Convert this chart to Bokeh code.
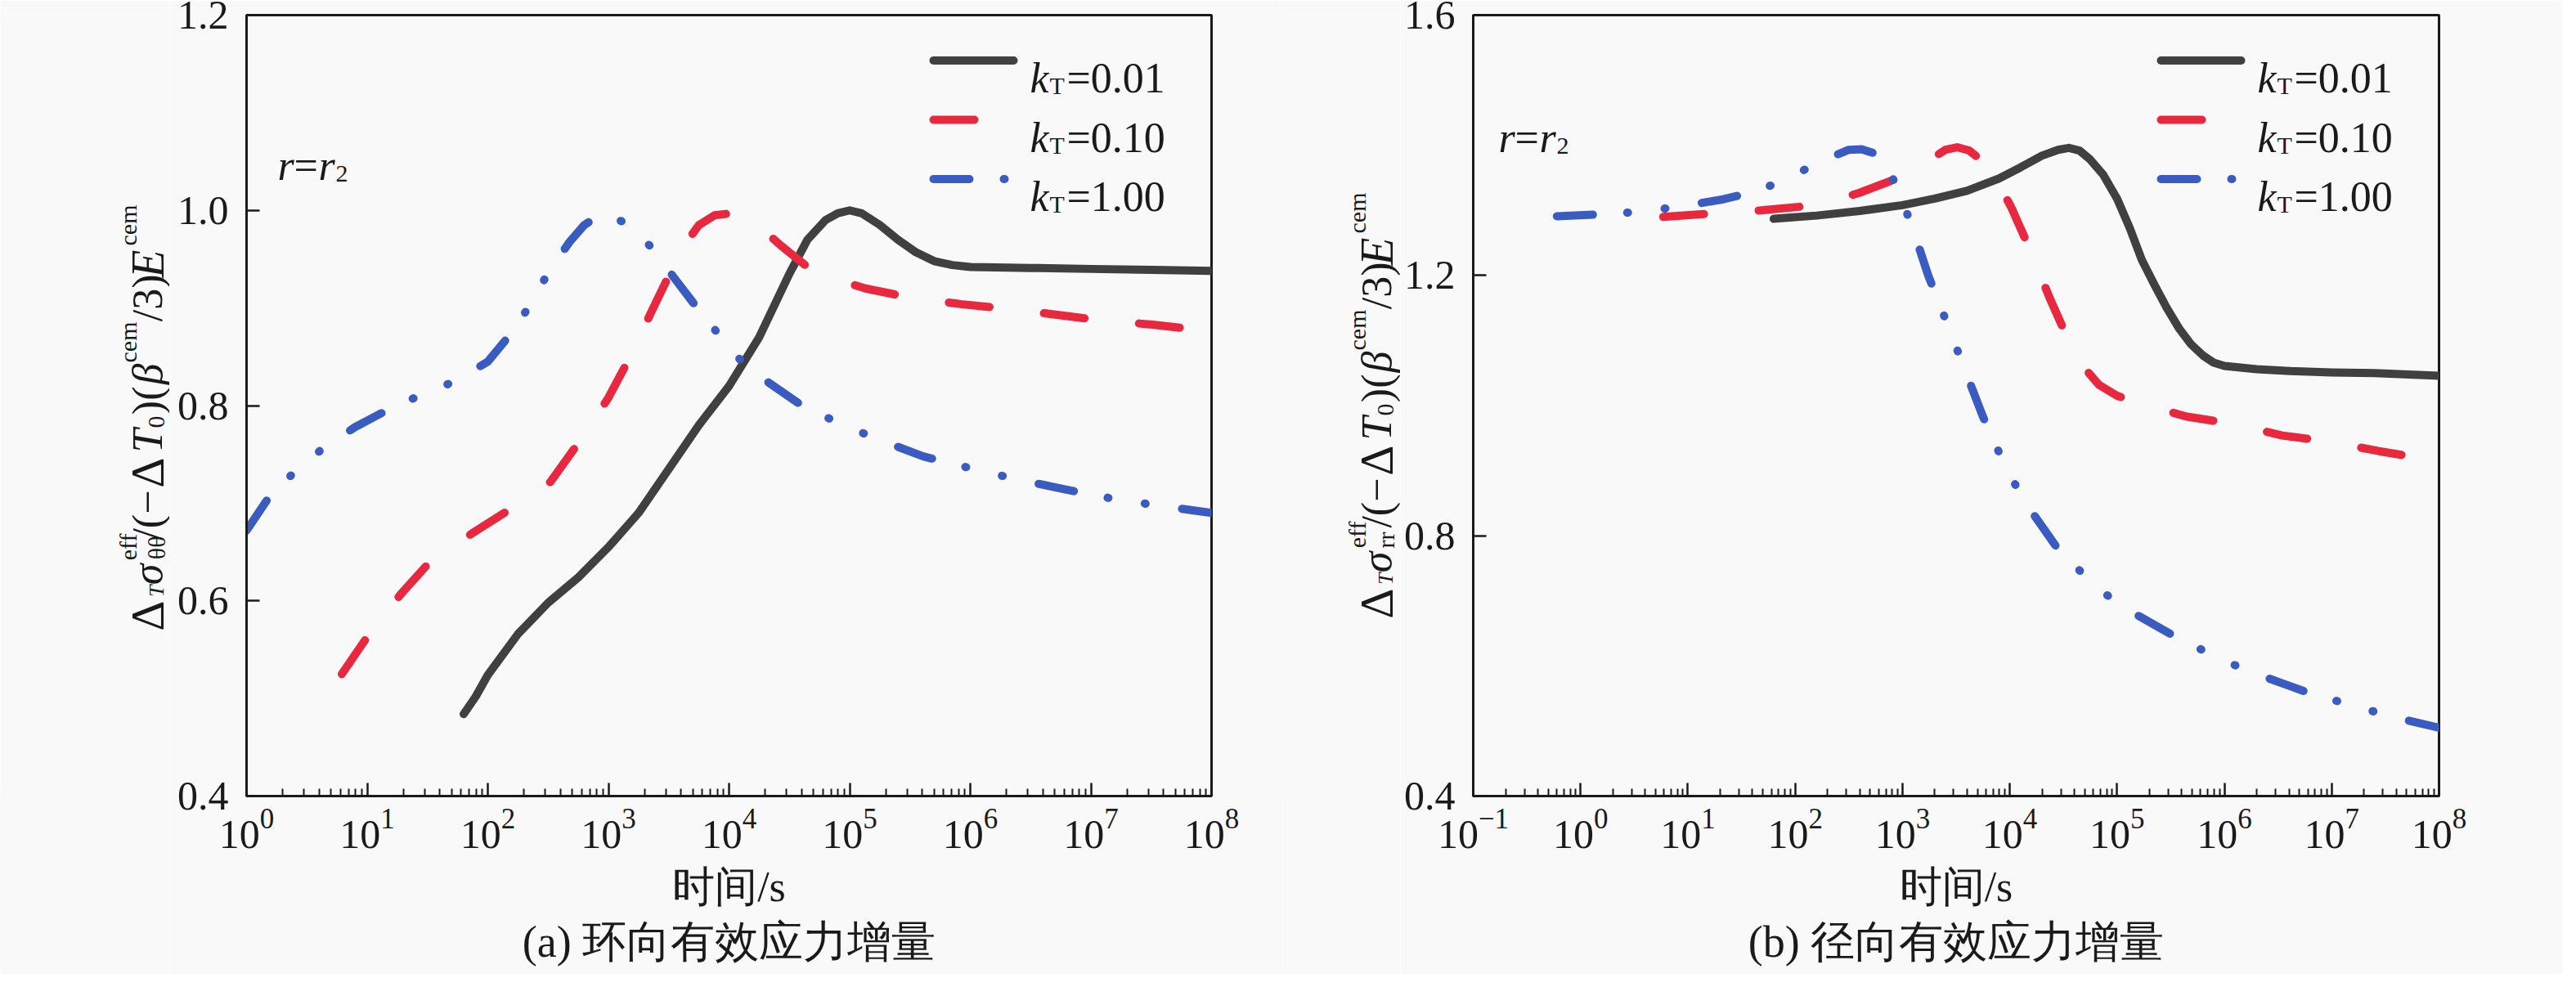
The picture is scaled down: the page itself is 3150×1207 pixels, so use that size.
import math
import numpy as np

from bokeh.plotting import figure
from bokeh.layouts import row
from bokeh.models import (Range1d, FixedTicker, PrintfTickFormatter, LogTickFormatter,
                          Label, Arrow, Title)
from bokeh.embed import file_html
from bokeh.resources import INLINE

# time values are kept as log10 exponents
# panel (a): hoop effective stress increment
a_exp_001 = [1.8, 1.9, 2.0, 2.25, 2.5, 2.75, 3.0, 3.25, 3.5, 3.75, 4.0, 4.25, 4.5, 4.65,
             4.8, 4.9, 5.0, 5.1, 5.25, 5.4, 5.55, 5.7, 5.85, 6.0, 6.5, 7.0, 7.5, 8.0]
a_val_001 = [0.484, 0.502, 0.524, 0.566, 0.598, 0.624, 0.655, 0.69, 0.735, 0.78, 0.82, 0.87,
             0.935, 0.97, 0.99, 0.997, 1.0, 0.997, 0.985, 0.97, 0.957, 0.948, 0.944, 0.942,
             0.941, 0.94, 0.939, 0.938]
a_exp_010 = [0.79, 1.0, 1.28, 1.52, 1.88, 2.2, 2.52, 2.77, 3.0, 3.18, 3.36, 3.52, 3.65, 3.75,
             3.88, 4.02, 4.15, 4.3, 4.42, 4.71, 5.13, 5.49, 5.92, 6.31, 6.72, 7.1, 7.51, 8.0]
a_val_010 = [0.525, 0.563, 0.607, 0.64, 0.67, 0.695, 0.722, 0.765, 0.808, 0.85, 0.897, 0.938,
             0.968, 0.985, 0.995, 0.997, 0.99, 0.978, 0.965, 0.936, 0.92, 0.911, 0.904, 0.899,
             0.893, 0.887, 0.883, 0.876]
a_exp_100 = [0.0, 0.19, 0.39, 0.64, 0.9, 1.16, 1.43, 1.73, 2.0, 2.2, 2.35, 2.5, 2.68, 2.8,
             2.89, 3.0, 3.17, 3.38, 3.55, 3.73, 3.92, 4.14, 4.37, 4.64, 4.9, 5.2, 5.61, 6.06,
             6.37, 6.79, 7.25, 7.6, 8.0]
a_val_100 = [0.672, 0.707, 0.731, 0.757, 0.778, 0.795, 0.81, 0.825, 0.845, 0.875, 0.903, 0.936,
             0.968, 0.985, 0.992, 0.994, 0.986, 0.959, 0.93, 0.901, 0.872, 0.84, 0.82, 0.797,
             0.783, 0.767, 0.748, 0.734, 0.725, 0.714, 0.703, 0.697, 0.69]

# panel (b): radial effective stress increment
b_exp_001 = [1.8, 2.2, 2.6, 3.0, 3.3, 3.6, 3.9, 4.1, 4.3, 4.45, 4.55, 4.65, 4.75, 4.87, 5.0,
             5.12, 5.23, 5.35, 5.46, 5.58, 5.69, 5.8, 5.9, 6.0, 6.3, 6.62, 7.0, 7.4, 8.0]
b_val_001 = [1.287, 1.292, 1.299, 1.308, 1.318, 1.33, 1.349, 1.366, 1.384, 1.393, 1.396, 1.392,
             1.378, 1.355, 1.318, 1.272, 1.224, 1.185, 1.151, 1.118, 1.094, 1.077, 1.066, 1.061,
             1.056, 1.053, 1.051, 1.05, 1.046]
b_exp_010 = [0.77, 1.2, 1.68, 2.07, 2.35, 2.6, 2.95, 3.2, 3.4, 3.51, 3.62, 3.75, 3.88, 4.01,
             4.18, 4.37, 4.54, 4.7, 4.83, 5.0, 5.18, 5.65, 6.08, 6.54, 6.97, 7.44, 7.85, 8.0]
b_val_010 = [1.29, 1.295, 1.3, 1.306, 1.315, 1.327, 1.349, 1.372, 1.393, 1.397, 1.392, 1.375,
             1.345, 1.306, 1.243, 1.166, 1.103, 1.057, 1.032, 1.015, 1.005, 0.983, 0.972, 0.954,
             0.945, 0.93, 0.919, 0.915]
b_exp_100 = [-0.22, 0.2, 0.48, 0.9, 1.33, 1.6, 1.82, 2.0, 2.15, 2.35, 2.5, 2.62, 2.73, 2.85,
             2.95, 3.09, 3.24, 3.44, 3.57, 3.75, 3.96, 4.14, 4.43, 4.79, 5.07, 5.52, 5.98, 6.31,
             6.76, 7.26, 7.61, 8.0]
b_val_100 = [1.291, 1.294, 1.297, 1.305, 1.317, 1.328, 1.341, 1.355, 1.368, 1.383, 1.393, 1.394,
             1.388, 1.37, 1.335, 1.275, 1.2, 1.116, 1.06, 0.983, 0.906, 0.852, 0.784, 0.723,
             0.689, 0.647, 0.609, 0.587, 0.56, 0.536, 0.52, 0.505]

kt_labels = ["=0.01", "=0.10", "=1.00"]
a_yticks = [0.4, 0.6, 0.8, 1.0, 1.2]
b_yticks = [0.4, 0.8, 1.2, 1.6]

SERIF = "Liberation Serif"
INK = "#1a1a1a"
BG = "#f9f9f9"
COLORS = ["#404040", "#e8283f", "#3a5cc0"]
DASHES = ["solid", "50 67", "44 42 1 45 1 45"]

H = 1191
FRAME_BOTTOM = 981    # frame bottom in page pixels (shared by every plot in the row)


def put(p, fl, px, py, text, size, style="normal", angle=0.0, align="left"):
    # px, py are page pixels; Labels are given relative to the frame (x right, y up)
    p.add_layout(Label(x=px - fl, y=FRAME_BOTTOM - py, x_units="screen", y_units="screen",
                       text=text, text_font=SERIF, text_font_size=f"{size}px",
                       text_font_style=style, text_color=INK, angle=angle,
                       text_align=align, text_baseline="alphabetic"))


def label_strip(width, page_left, bx, sub, sub_w, dy):
    # narrow figure carrying the rotated y-axis label, written bottom to top;
    # each piece is anchored at its upper end (start - width) and right aligned
    s = figure(width=width, height=H, x_range=Range1d(0, 1), y_range=Range1d(0, 1),
               min_border=0, toolbar_location=None, output_backend="svg",
               x_axis_location=None, y_axis_location=None,
               background_fill_color=BG, border_fill_color=BG)
    s.grid.visible = False
    s.outline_line_color = None
    pieces = [("Δ", 58, "normal", 0, 777, 35), ("T", 26, "italic", -11, 737, 14),
              ("σ", 52, "italic", 0, 725, 28), (sub, 30, "normal", -11, 693, sub_w),
              ("eff", 30, "normal", 24, 693, 33), ("/(−", 52, "normal", 0, 668, 61),
              ("Δ", 58, "normal", 0, 602, 35), ("T", 52, "italic", 0, 561, 29),
              ("0", 30, "normal", -11, 531, 15), (")(", 52, "normal", 0, 515, 35),
              ("β", 52, "italic", 0, 478, 26), ("cem", 30, "normal", 24, 451, 50),
              ("/3)", 52, "normal", 0, 401, 58), ("E", 56, "italic", 0, 347, 34),
              ("cem", 30, "normal", 24, 308, 50)]
    for text, size, style, off, start, w in pieces:
        put(s, page_left, bx - off, start + dy - w, text, size, style,
            angle=math.pi / 2, align="right")
    return s


def make_panel(width, x_lo, y_lo, y_hi, yticks, fl, fw, left, series, r_pos, caption):
    p = figure(width=width, height=H, x_axis_type="log",
               x_range=Range1d(x_lo, 1e8), y_range=Range1d(y_lo, y_hi),
               min_border_left=left, min_border_right=width - left - fw,
               min_border_top=18, min_border_bottom=218,
               toolbar_location=None, output_backend="svg",
               background_fill_color=BG, border_fill_color=BG)
    p.grid.visible = False
    p.outline_line_color = INK
    p.outline_line_width = 3
    p.outline_line_alpha = 1.0

    e0 = int(round(math.log10(x_lo)))
    majors = [10.0 ** e for e in range(e0, 9)]
    minors = [m * 10.0 ** e for e in range(e0, 8) for m in range(2, 10)]
    p.xaxis.ticker = FixedTicker(ticks=majors, minor_ticks=minors)
    p.xaxis.formatter = LogTickFormatter()
    p.yaxis.ticker = FixedTicker(ticks=yticks, minor_ticks=[])
    p.yaxis.formatter = PrintfTickFormatter(format="%.1f")

    for ax in (p.xaxis[0], p.yaxis[0]):
        ax.axis_line_color = INK
        ax.axis_line_width = 3
        ax.major_tick_line_color = INK
        ax.major_tick_line_width = 2.5
        ax.major_tick_in = 16
        ax.major_tick_out = 0
        ax.minor_tick_line_color = INK
        ax.minor_tick_line_width = 2
        ax.minor_tick_in = 9
        ax.minor_tick_out = 0
        ax.major_label_text_font = SERIF
        ax.major_label_text_font_size = "50px"
        ax.major_label_text_color = INK
    p.yaxis.major_label_standoff = 22
    p.xaxis.major_label_standoff = 16
    p.xaxis.axis_label = "时间/s"
    p.xaxis.axis_label_text_font = SERIF
    p.xaxis.axis_label_text_font_size = "52px"
    p.xaxis.axis_label_text_font_style = "normal"
    p.xaxis.axis_label_text_color = INK
    p.xaxis.axis_label_standoff = 16

    # the three curves
    for (ex, vals), color, dash in zip(series, COLORS, DASHES):
        t = np.power(10.0, np.array(ex))
        p.line(t, vals, line_color=color, line_width=10, line_dash=dash,
               line_cap="round", line_join="round")

    # legend: key lines and k_T labels, placed from the frame's right edge
    fr = fl + fw
    for i, (color, dash) in enumerate(zip(COLORS, DASHES)):
        cy = 81.5 + 72.5 * i
        p.add_layout(Arrow(start=None, end=None, start_units="screen", end_units="screen",
                           x_start=fr - 340 - fl, x_end=fr - 242 - fl,
                           y_start=FRAME_BOTTOM - cy, y_end=FRAME_BOTTOM - cy,
                           line_color=color, line_width=10, line_dash=dash, line_cap="round"))
        base = cy + 21.5
        put(p, fl, fr - 222, base, "k", 52, "italic")
        put(p, fl, fr - 198, base + 9, "T", 30)
        put(p, fl, fr - 177, base, kt_labels[i], 52)

    # r = r2 note
    rx, ry = r_pos
    put(p, fl, rx, ry, "r", 52, "italic")
    put(p, fl, rx + 20, ry, "=", 52)
    put(p, fl, rx + 50, ry, "r", 52, "italic")
    put(p, fl, rx + 71, ry + 10, "2", 30)

    # caption under the panel
    p.add_layout(Title(text=caption, align="center", text_font=SERIF,
                       text_font_size="54px", text_font_style="normal",
                       text_color=INK, standoff=9), "below")
    return p


# page layout: [label strip a | panel a | label strip b | panel b], total 3134 px
sa = label_strip(207, 8, 188, "θθ", 30, 0)
pa = make_panel(1360, 1.0, 0.4, 1.2, a_yticks, 309, 1180, 94,
                [(a_exp_001, a_val_001), (a_exp_010, a_val_010), (a_exp_100, a_val_100)],
                (347, 210), "(a) 环向有效应力增量")
sb = label_strip(145, 1575, 1691, "rr", 20, -15)
pb = make_panel(1422, 0.1, 0.4, 1.6, b_yticks, 1809, 1181, 89,
                [(b_exp_001, b_val_001), (b_exp_010, b_val_010), (b_exp_100, b_val_100)],
                (1840, 176), "(b) 径向有效应力增量")

layout = row(sa, pa, sb, pb, spacing=0)
open("out.html", "w").write(file_html(layout, INLINE))
